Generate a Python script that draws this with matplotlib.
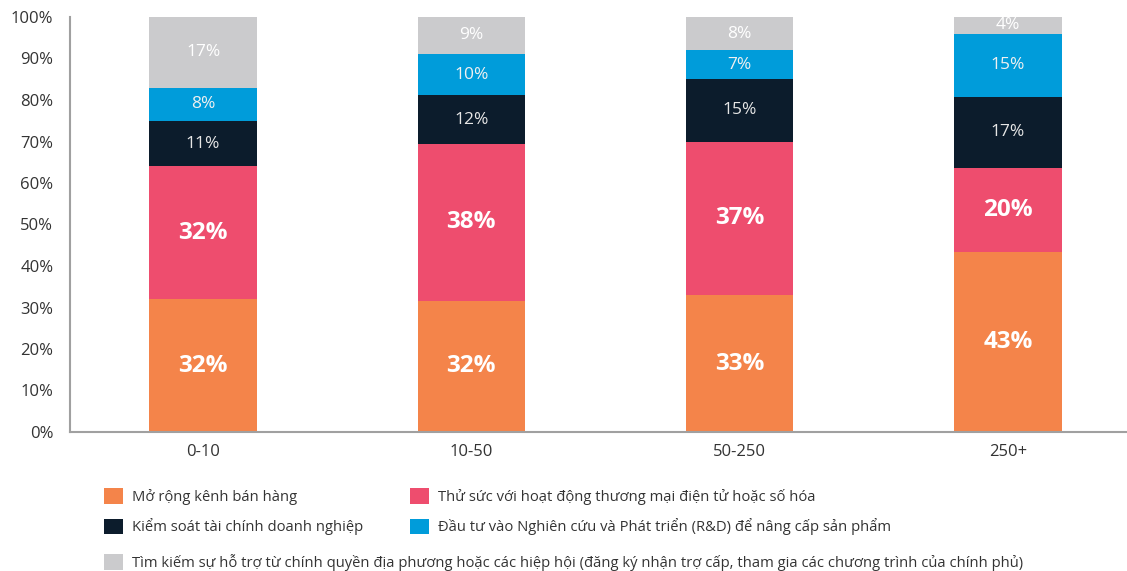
import matplotlib
matplotlib.use("Agg")
import matplotlib.pyplot as plt
import numpy as np

plt.rcParams['font.family'] = ['Open Sans', 'DejaVu Sans']

categories = ["0-10", "10-50", "50-250", "250+"]
series_names = [
    "Mở rộng kênh bán hàng",
    "Thử sức với hoạt động thương mại điện tử hoặc số hóa",
    "Kiểm soát tài chính doanh nghiệp",
    "Đầu tư vào Nghiên cứu và Phát triển (R&D) để nâng cấp sản phẩm",
    "Tìm kiếm sự hỗ trợ từ chính quyền địa phương hoặc các hiệp hội (đăng ký nhận trợ cấp, tham gia các chương trình của chính phủ)",
]
expand_sales = [32, 32, 33, 43]
ecommerce = [32, 38, 37, 20]
finance_control = [11, 12, 15, 17]
rnd = [8, 10, 7, 15]
gov_support = [17, 9, 8, 4]

series = [expand_sales, ecommerce, finance_control, rnd, gov_support]
colors = ["#F4844A", "#EE4D6E", "#0C1C2C", "#009CDA", "#CBCBCD"]
label_colors = ["white", "white", "#E6E6E6", "#F0F0F0", "white"]
bold = [True, True, False, False, False]
tick_labels = ["0%", "10%", "20%", "30%", "40%", "50%", "60%", "70%", "80%", "90%", "100%"]

fig = plt.figure(figsize=(11.27, 5.71), dpi=100)
ax = fig.add_axes([70 / 1127, 1 - 432 / 571, 1 - 70 / 1127, (432 - 17) / 571])

# Each bar is drawn as a 100% stack of its shares
data = np.array(series, dtype=float)
totals = data.sum(axis=0)
shares = data / totals * 100
x = np.arange(len(categories))
width = 0.4
bottom = np.zeros(len(categories))
containers = []
for i, (vals, name) in enumerate(zip(shares, series_names)):
    bc = ax.bar(x, vals, width, bottom=bottom, color=colors[i], label=name, zorder=2)
    containers.append(bc)
    for xi, b, h, raw in zip(x, bottom, vals, data[i]):
        if bold[i]:
            ax.text(xi, b + h / 2, f"{raw:.0f}%", ha="center", va="center",
                    color=label_colors[i], fontsize=17.5, fontweight="bold")
        else:
            ax.text(xi, b + h / 2, f"{raw:.0f}%", ha="center", va="center",
                    color=label_colors[i], fontsize=12.5)
    bottom += vals

ax.set_xlim(-0.496, 3.444)
ax.set_ylim(0, 100)
ax.set_yticks(np.arange(0, 101, 10))
ax.set_yticklabels(tick_labels)
ax.set_xticks(x)
ax.set_xticklabels(categories)
ax.tick_params(axis="both", length=0, labelsize=12, labelcolor="#333333")
ax.tick_params(axis="y", pad=12)
ax.tick_params(axis="x", pad=9)
for s in ["top", "right"]:
    ax.spines[s].set_visible(False)
for s in ["left", "bottom"]:
    ax.spines[s].set_color("#A0A0A0")
    ax.spines[s].set_linewidth(1.5)

leg_kw = dict(frameon=False, fontsize=10.6, handlelength=1.29, handleheight=1.29,
              handletextpad=0.6, borderpad=0, borderaxespad=0, labelcolor="#333333")
leg1 = fig.legend([containers[0], containers[2], containers[1], containers[3]],
                  [series_names[0], series_names[2], series_names[1], series_names[3]],
                  ncol=2, loc="upper left", bbox_to_anchor=(104 / 1127, 1 - 488 / 571),
                  columnspacing=3.2, labelspacing=0.92, **leg_kw)
leg2 = fig.legend([containers[4]], [series_names[4]], loc="upper left",
                  bbox_to_anchor=(104 / 1127, 1 - 554 / 571), **leg_kw)

fig.savefig("out.png", dpi=100)
